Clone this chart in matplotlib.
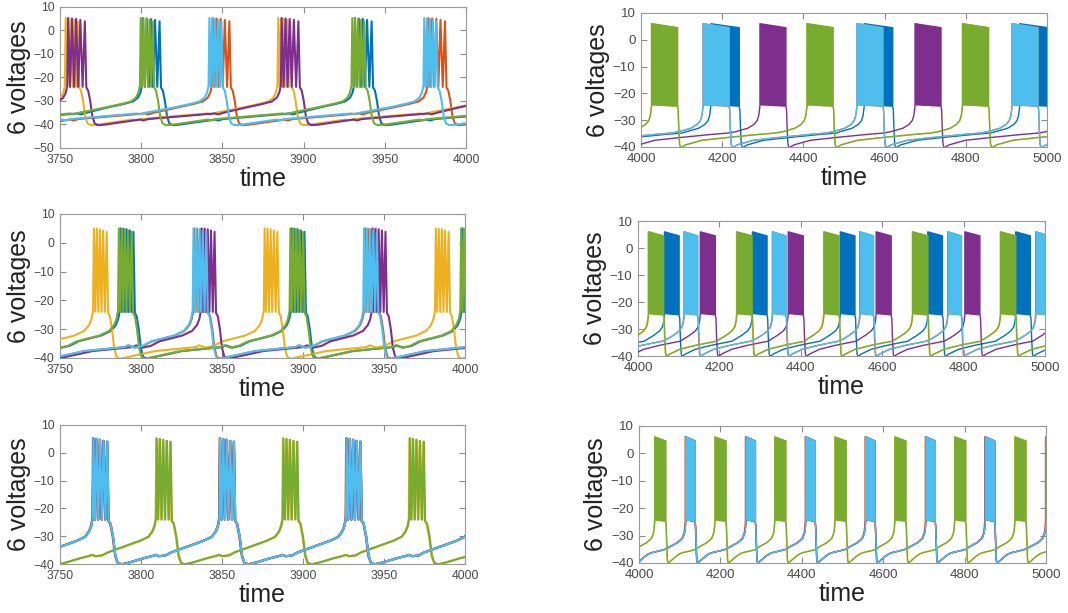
import matplotlib
matplotlib.use('Agg')
import matplotlib.pyplot as plt

plt.rcParams['font.family'] = ['Liberation Sans', 'DejaVu Sans']

# MATLAB default colour order: blue, orange, yellow, purple, green, light blue
colors = ['#0072BD', '#D95319', '#EDB120', '#7E2F8E', '#77AC30', '#4DBEEE']

# ---------------- left column, t = 3750..4000 (single spikes visible) ----------------
# burst onset times (first spike) for each of the 6 cells
tl_onsets = [
    [3670.5, 3801.0, 3931.6, 4062.5],
    [3712.0, 3844.0, 3976.8],
    [3622.5, 3753.5, 3884.4, 4015.5],
    [3624.0, 3755.0, 3886.5, 4017.5],
    [3669.0, 3799.7, 3930.0, 4061.0],
    [3710.0, 3842.0, 3974.3],
]
tl_trailing = [1, 1, 0, 1, 0, 0]   # second cell of each pair spikes slower
tl_burst_lead = [(0, 5.3), (0.85, -24), (1.7, 5.1), (2.6, -24), (3.5, 4.9),
                 (4.45, -24), (5.4, 4.5), (6.4, -24), (7.4, 3.9)]
tl_burst_trail = [(0, 5.3), (1.2, -24), (2.4, 5.1), (3.65, -24), (4.9, 4.9),
                  (6.2, -24), (7.5, 4.5), (8.9, -24), (10.3, 3.9)]
tl_pre = [(-22, -32.8), (-12, -31.3), (-6, -30.2), (-3, -28.6), (-1.5, -26.5), (-0.5, -23.5)]
tl_post = [(0.9, -24.3), (2.0, -25.5), (3.3, -30), (4.6, -36.5), (6.0, -39.5), (8.0, -40.3),
           (12, -40.1), (34, -37.9), (36, -38.3), (39, -37.7), (80, -35.3), (82, -35.7), (86, -34.9)]

ml_onsets = [
    [3682.0, 3787.4, 3893.0, 3998.5],
    [3727.5, 3832.8, 3938.2, 4043.5],
    [3665.5, 3770.9, 3876.3, 3982.0],
    [3732.1, 3837.5, 3943.0, 4048.0],
    [3680.9, 3786.3, 3892.2, 3997.6],
    [3727.0, 3832.4, 3937.7, 4043.0],
]
ml_burst = [(0, 5.0), (0.9, -24), (1.8, 4.9), (2.75, -24), (3.7, 4.7),
            (4.7, -24), (5.7, 4.3), (6.8, -24), (7.9, 3.8)]
ml_pre = [(-26, -34.2), (-12, -32.2), (-6, -30.6), (-3, -28.6), (-1.5, -26.5), (-0.5, -23.5)]
ml_post = [(0.9, -24.3), (2.0, -25.5), (3.3, -30), (4.6, -36.5), (6.0, -39.5), (8.0, -40.3),
           (12, -39.8), (30, -37.6), (55, -36.2), (57, -35.6), (61, -36.4), (66, -35.8)]

bl_onsets = [
    [3692.5, 3770.6, 3848.8, 3926.9, 4005.0],
    [3692.2, 3770.3, 3848.5, 3926.6, 4004.7],
    [3653.0, 3731.2, 3809.4, 3887.6, 3965.7],
    [3692.5, 3770.6, 3848.8, 3926.9, 4005.0],
    [3653.3, 3731.5, 3809.7, 3887.9, 3966.0],
    [3692.5, 3770.6, 3848.8, 3926.9, 4005.0],
]
bl_burst = [(0, 5.2), (1.0, -24), (2.0, 5.0), (3.05, -24), (4.1, 4.7),
            (5.2, -24), (6.3, 4.3), (7.45, -24), (8.6, 4.0)]
bl_pre = [(-30, -35.8), (-20, -33.7), (-10, -31.6), (-5, -30.2), (-2.5, -28.2), (-1.2, -26.2), (-0.4, -23.5)]
bl_post = [(0.8, -24.5), (2.0, -25.5), (3.5, -30), (5.0, -37), (6.5, -39.6), (9, -40.1),
           (14, -39.4), (22, -38), (28, -37.1), (30, -36.7), (32, -37.2), (36, -36.9)]

# ---------------- right column, t = 4000..5000 (bursts look solid) ----------------
tr_onsets = [
    [3790, 4172, 4550, 4933],
    [3771, 4153, 4532, 4914],
    [3643.5, 4026, 4409, 4792],
    [3910, 4293, 4675, 5057],
    [3643.5, 4026, 4409, 4792],
    [3771, 4153, 4532, 4914],
]
tr_dur = [70, 64, 64, 64, 64, 64]
tr_pre = [(-60, -34.3), (-30, -33), (-15, -31.6), (-7, -30.2), (-3, -28.3), (-1.2, -26.2)]
tr_post = [(1.5, -26), (3, -33), (5, -39), (8, -40.3), (20, -39.2), (60, -37.5),
           (120, -36.5), (200, -35.3), (240, -34.8)]

mr_onsets = [
    [3849, 4065, 4281, 4497, 4712, 4928],
    [3897, 4113, 4330, 4545, 4761, 4977],
    [3809, 4025, 4242, 4456, 4674, 4890],
    [3937, 4153, 4369, 4585, 4803, 5019],
    [3810, 4026, 4243, 4457, 4675, 4891],
    [3898, 4114, 4331, 4546, 4762, 4978],
]
mr_dur = [36, 33, 37, 37, 37, 33]
mr_pre = [(-40, -33.6), (-26, -32.3), (-12, -30.7), (-5, -29.2), (-2, -27.3), (-0.8, -25.8)]
mr_post = [(1.5, -26), (3, -33), (5, -39), (7, -40.2), (15, -39.3), (40, -37.5), (80, -36), (130, -34.5)]

br_onsets = [
    [3967, 4115, 4263, 4410, 4557, 4705, 4851, 5000.3],
    [3965.5, 4113.5, 4261.5, 4408.5, 4555.5, 4703.5, 4849.5, 4998.8],
    [3890.8, 4038.3, 4186.3, 4333.3, 4481.3, 4628.3, 4775.3, 4923.3],
    [3967, 4115, 4263, 4410, 4557, 4705, 4851, 5000.3],
    [3891.5, 4039, 4187, 4334, 4482, 4629, 4776, 4924],
    [3967, 4115, 4263, 4410, 4557, 4705, 4851, 5000.3],
]
br_dur = [23, 24, 27, 23, 27, 23]
br_pre = [(-40, -34.2), (-20, -32.6), (-8, -31), (-3, -29), (-1.2, -27)]
br_post = [(1, -26.5), (2.5, -33), (4, -39), (6, -40), (12, -39.3), (25, -37.6),
           (35, -36.6), (45, -36.1), (60, -35.6), (75, -35)]

solid_peak = (6.0, 4.5)     # top of a solid burst, start / end
solid_base = (-24.5, -25.0)  # bottom of a solid burst, start / end


def build(onsets, burst, pre, post):
    ts, vs = [], []
    for t0 in onsets:
        for dt, v in pre:
            ts.append(t0 + dt); vs.append(v)
        for dt, v in burst:
            ts.append(t0 + dt); vs.append(v)
        end = t0 + burst[-1][0]
        for dt, v in post:
            ts.append(end + dt); vs.append(v)
    return ts, vs


def style(ax, xlim, ylim, xticks, yticks, tsize):
    ax.set_xlim(*xlim)
    ax.set_ylim(*ylim)
    ax.set_xticks(xticks)
    ax.set_yticks(yticks)
    ax.tick_params(direction='in', top=True, right=True, length=4, width=0.8,
                   color='#8c8c8c', labelcolor='#4a4a4a', labelsize=tsize, pad=4)
    for s in ax.spines.values():
        s.set_color('#9a9a9a')
        s.set_linewidth(0.8)
    ax.set_xlabel('time', fontsize=18, color='#222222', labelpad=1)
    ax.set_ylabel('6 voltages', fontsize=18, color='#222222', labelpad=2)


fig = plt.figure(figsize=(10.68, 6.13), dpi=100)

# left column
left_panels = [
    ([0.0562, 0.7586, 0.3801, 0.2300], tl_onsets, None, tl_pre, tl_post, (-50, 10)),
    ([0.0562, 0.4160, 0.3792, 0.2349], ml_onsets, ml_burst, ml_pre, ml_post, (-40, 10)),
    ([0.0562, 0.0799, 0.3792, 0.2268], bl_onsets, bl_burst, bl_pre, bl_post, (-40, 10)),
]
for rect, onsets, burst, pre, post, ylim in left_panels:
    ax = fig.add_axes(rect)
    for i in range(6):
        b = burst
        if b is None:
            b = tl_burst_trail if tl_trailing[i] else tl_burst_lead
        t, v = build(onsets[i], b, pre, post)
        ax.plot(t, v, color=colors[i], lw=1.5, zorder=2 + i)
    style(ax, (3750, 4000), ylim, range(3750, 4001, 50), range(ylim[0], 11, 10), 8.7)

# right column
right_panels = [
    ([0.6002, 0.7602, 0.3801, 0.2186], tr_onsets, tr_dur, tr_pre, tr_post),
    ([0.5974, 0.4192, 0.3811, 0.2202], mr_onsets, mr_dur, mr_pre, mr_post),
    ([0.5983, 0.0816, 0.3811, 0.2235], br_onsets, br_dur, br_pre, br_post),
]
for rect, onsets, dur, pre, post in right_panels:
    ax = fig.add_axes(rect)
    for i in range(6):
        d = dur[i]
        burst = [(0, solid_base[0]), (0, solid_peak[0]), (d, solid_peak[1]), (d, solid_base[1])]
        t, v = build(onsets[i], burst, pre, post)
        ax.plot(t, v, color=colors[i], lw=1.0, zorder=2 + i)
        for t0 in onsets[i]:
            ax.fill([t0 + dt for dt, _ in burst], [y for _, y in burst],
                    color=colors[i], lw=0, zorder=2 + i)
    style(ax, (4000, 5000), (-40, 10), range(4000, 5001, 200), range(-40, 11, 10), 9.5)

fig.savefig('out.png', dpi=100)
